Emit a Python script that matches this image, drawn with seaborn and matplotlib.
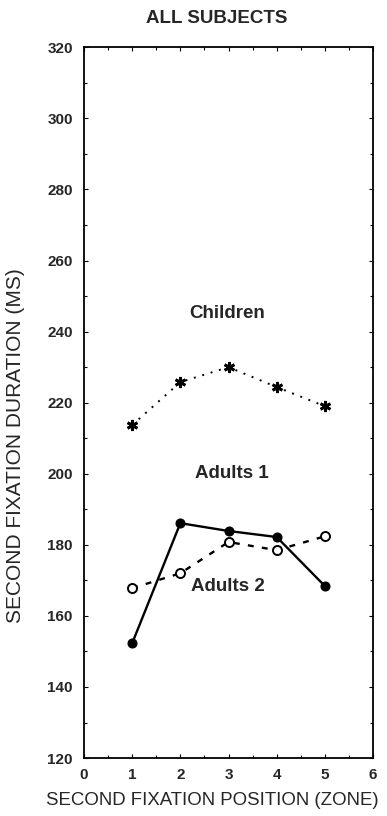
import matplotlib
matplotlib.use("Agg")
import matplotlib.pyplot as plt
import seaborn as sns
import pandas as pd

zones = [1, 2, 3, 4, 5]
children = [213.7, 225.8, 230.0, 224.4, 219.0]
adults1 = [152.3, 186.1, 183.9, 182.2, 168.4]
adults2 = [167.8, 172.0, 180.8, 178.5, 182.4]

sns.set_style("ticks")
plt.rcParams['font.family'] = ['Liberation Sans', 'DejaVu Sans']

fig = plt.figure(figsize=(3.87, 8.16), dpi=100)
ax = fig.add_axes([0.217, 0.071, 0.747, 0.871])

df_c = pd.DataFrame({"zone": zones, "ms": children})
df_a1 = pd.DataFrame({"zone": zones, "ms": adults1})
df_a2 = pd.DataFrame({"zone": zones, "ms": adults2})

sns.lineplot(data=df_c, x="zone", y="ms", ax=ax, color="black", linestyle=(0, (1, 3.5)),
             linewidth=1.4, marker=(6, 2, 0), markersize=8, markeredgewidth=2.0,
             markeredgecolor="black")
sns.lineplot(data=df_a1, x="zone", y="ms", ax=ax, color="black", linestyle="-",
             linewidth=1.7, marker="o", markersize=6.5, markerfacecolor="black",
             markeredgecolor="black")
sns.lineplot(data=df_a2, x="zone", y="ms", ax=ax, color="black", linestyle=(0, (2.5, 3.5)),
             linewidth=1.7, marker="o", markersize=6.5, markerfacecolor="white",
             markeredgecolor="black", markeredgewidth=1.4)

ax.text(2.97, 245, "Children", ha="center", va="center", fontsize=13.5, fontweight="bold")
ax.text(3.07, 200, "Adults 1", ha="center", va="center", fontsize=13.5, fontweight="bold")
ax.text(2.99, 168.4, "Adults 2", ha="center", va="center", fontsize=13.5, fontweight="bold")

ax.set_xlim(0, 6)
ax.set_ylim(120, 320)
ax.set_xticks([0, 1, 2, 3, 4, 5, 6])
ax.set_yticks(list(range(120, 321, 20)))
ax.set_xticks([0.5, 1.5, 2.5, 3.5, 4.5, 5.5], minor=True)
ax.set_yticks(list(range(130, 320, 20)), minor=True)
ax.tick_params(axis="both", which="both", direction="in", top=True, right=True,
               width=0.8, color="black")
ax.tick_params(axis="both", which="major", length=3, labelsize=11)
ax.tick_params(axis="both", which="minor", length=2)
for lab in ax.get_xticklabels() + ax.get_yticklabels():
    lab.set_fontweight("bold")
ax.tick_params(axis="x", pad=7)
ax.tick_params(axis="y", pad=8)

for sp in ax.spines.values():
    sp.set_visible(True)
    sp.set_linewidth(1.3)
    sp.set_color("black")

ax.set_xlabel("SECOND FIXATION POSITION (ZONE)", fontsize=13.4)
ax.set_ylabel("SECOND FIXATION DURATION (MS)", fontsize=15)
ax.xaxis.set_label_coords(0.443, -0.048)
ax.yaxis.set_label_coords(-0.205, 0.439)
fig.text(0.56, 0.977, "ALL SUBJECTS", ha="center", va="center", fontsize=13.5, fontweight="bold")

fig.savefig("out.png", dpi=100)
